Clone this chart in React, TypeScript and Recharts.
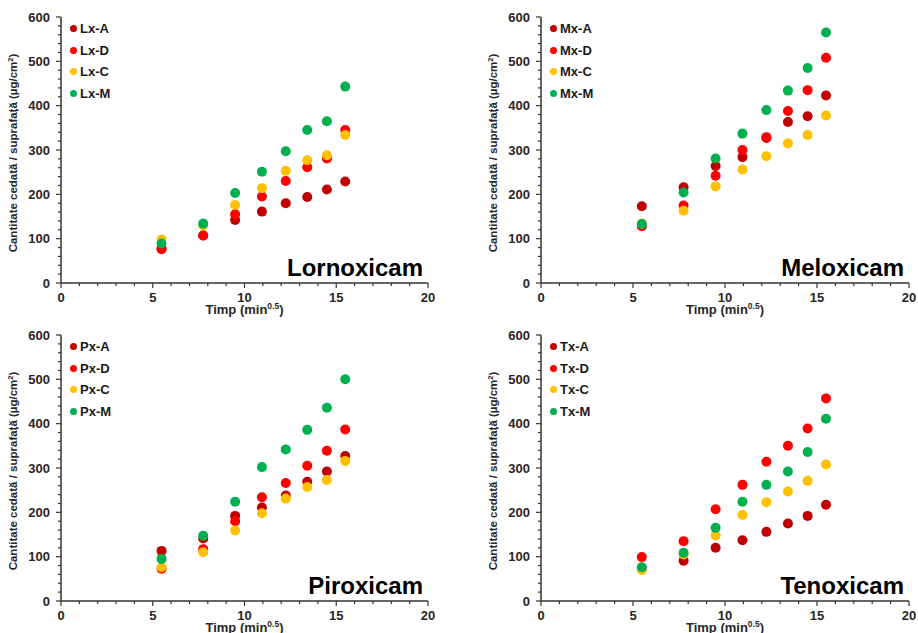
import React from "react";
import { ScatterChart, Scatter, XAxis, YAxis, Legend } from "recharts";

// time axis: sqrt of sampling minutes
const timeX = [5.48, 7.75, 9.49, 10.95, 12.25, 13.42, 14.49, 15.49];
const xTicks = [0, 1, 2, 3, 4, 5, 6, 7, 8, 9, 10, 11, 12, 13, 14, 15, 16, 17, 18, 19, 20];
const yTicks = [0, 20, 40, 60, 80, 100, 120, 140, 160, 180, 200, 220, 240, 260, 280, 300, 320, 340, 360, 380, 400, 420, 440, 460, 480, 500, 520, 540, 560, 580, 600];
const seriesSuffix = ["A", "D", "C", "M"];
const seriesColors = ["#C00000", "#FF0000", "#FFC000", "#00B050"];

const lxA = [78, 107, 142, 161, 180, 194, 211, 229];
const lxD = [76, 107, 155, 195, 230, 261, 281, 345];
const lxC = [98, 130, 176, 214, 253, 277, 288, 334];
const lxM = [89, 134, 203, 251, 297, 345, 365, 443];

const mxA = [173, 216, 264, 284, 327, 363, 376, 423];
const mxD = [128, 175, 242, 300, 329, 388, 435, 508];
const mxC = [134, 163, 218, 256, 286, 315, 334, 378];
const mxM = [133, 204, 281, 337, 390, 434, 485, 565];

const pxA = [113, 141, 192, 211, 238, 269, 292, 327];
const pxD = [73, 117, 180, 234, 266, 305, 339, 387];
const pxC = [76, 110, 159, 198, 231, 257, 273, 316];
const pxM = [95, 147, 224, 302, 342, 386, 436, 500];

const txA = [73, 91, 120, 137, 156, 175, 192, 217];
const txD = [99, 135, 207, 262, 314, 350, 389, 457];
const txC = [70, 105, 148, 194, 223, 247, 271, 308];
const txM = [76, 109, 165, 224, 262, 292, 336, 411];

const FONT = "'Liberation Sans', Arial, sans-serif";
const AXIS = "#333333";
const W = 459;
const H = 317;
const YW = 40;
const XH = 30;

const panels = [
  { title: "Lornoxicam", prefix: "Lx", values: [lxA, lxD, lxC, lxM], left: 0, top: 0, pl: 61, pt: 17, pr: 428, pb: 283 },
  { title: "Meloxicam", prefix: "Mx", values: [mxA, mxD, mxC, mxM], left: 459, top: 0, pl: 82, pt: 17, pr: 450, pb: 283 },
  { title: "Piroxicam", prefix: "Px", values: [pxA, pxD, pxC, pxM], left: 0, top: 316, pl: 61, pt: 19, pr: 428, pb: 285 },
  { title: "Tenoxicam", prefix: "Tx", values: [txA, txD, txC, txM], left: 459, top: 316, pl: 82, pt: 19, pr: 450, pb: 285 },
];

const XTick = (props: any) => {
  const { x, y, payload } = props;
  const major = payload.value % 5 === 0;
  return (
    <g>
      <line x1={x} x2={x} y1={y} y2={y + (major ? 5 : 3)} stroke={AXIS} strokeWidth={1.2} />
      {major && (
        <text x={x} y={y + 18.5} textAnchor="middle" fontFamily={FONT} fontWeight={700} fontSize={13} fill="#262626">
          {payload.value}
        </text>
      )}
    </g>
  );
};

const YTick = (props: any) => {
  const { x, y, payload } = props;
  const major = payload.value % 100 === 0;
  return (
    <g>
      <line x1={x} x2={x - (major ? 5 : 3)} y1={y} y2={y} stroke={AXIS} strokeWidth={1.2} />
      {major && (
        <text x={x - 11} y={y + 4.5} textAnchor="end" fontFamily={FONT} fontWeight={700} fontSize={13} fill="#262626">
          {payload.value}
        </text>
      )}
    </g>
  );
};

const Dot = (props: any) => <circle cx={props.cx} cy={props.cy} r={5} fill={props.fill} />;

const LegendBox = (props: any) => {
  const { payload, order } = props;
  const items = [...(payload || [])].sort(
    (a: any, b: any) => order.indexOf(a.value) - order.indexOf(b.value)
  );
  return (
    <div style={{ fontFamily: FONT, fontWeight: 700, fontSize: 13, color: "#1a1a1a" }}>
      {items.map((p: any, i: number) => (
        <div key={i} style={{ display: "flex", alignItems: "center", height: 21.7 }}>
          <span style={{ width: 7, height: 7, borderRadius: "50%", background: p.color, marginRight: 3 }} />
          {p.value}
        </div>
      ))}
    </div>
  );
};

const Panel = ({ cfg }: { cfg: (typeof panels)[number] }) => {
  const cy = (cfg.pt + cfg.pb) / 2;
  const cx = (cfg.pl + cfg.pr) / 2;
  const names = seriesSuffix.map((s) => `${cfg.prefix}-${s}`);
  return (
    <div style={{ position: "absolute", left: cfg.left, top: cfg.top, width: W, height: H }}>
      <ScatterChart
        width={W}
        height={H}
        margin={{ top: cfg.pt, right: W - cfg.pr, bottom: H - cfg.pb - XH, left: cfg.pl - YW }}
      >
        <XAxis
          type="number"
          dataKey="x"
          domain={[0, 20]}
          ticks={xTicks}
          interval={0}
          height={XH}
          tickLine={false}
          tickSize={0}
          tickMargin={0}
          tick={<XTick />}
          axisLine={{ stroke: AXIS, strokeWidth: 1.5 }}
        />
        <YAxis
          type="number"
          dataKey="y"
          domain={[0, 600]}
          ticks={yTicks}
          interval={0}
          width={YW}
          tickLine={false}
          tickSize={0}
          tickMargin={0}
          tick={<YTick />}
          axisLine={{ stroke: AXIS, strokeWidth: 1.5 }}
        />
        <Legend
          layout="vertical"
          align="center"
          verticalAlign="middle"
          content={<LegendBox order={names} />}
          wrapperStyle={{ left: cfg.pl + 9, top: cfg.pt + 0.5, width: "auto", height: "auto" }}
        />
        {cfg.values.map((vals, i) => (
          <Scatter
            key={i}
            name={names[i]}
            data={timeX.map((x, j) => ({ x, y: vals[j] }))}
            fill={seriesColors[i]}
            shape={<Dot />}
            isAnimationActive={false}
          />
        ))}
        <g>
          <text
            transform={`translate(${cfg.pl - 44}, ${cy + 3}) rotate(-90)`}
            textAnchor="middle"
            fontFamily={FONT}
            fontWeight={700}
            fontSize={11.5}
            fill="#262626"
          >
            Cantitate cedată / suprafață (µg/cm<tspan fontSize={7.5} dy={-4}>2</tspan>
            <tspan dy={4}>)</tspan>
          </text>
          <text x={cx} y={cfg.pb + 31} textAnchor="middle" fontFamily={FONT} fontWeight={700} fontSize={13} fill="#262626">
            Timp (min<tspan fontSize={8.5} dy={-5}>0.5</tspan>
            <tspan dy={5}>)</tspan>
          </text>
          <text x={cfg.pr - 5} y={cfg.pb - 7} textAnchor="end" fontFamily={FONT} fontWeight={700} fontSize={24} fill="#000">
            {cfg.title}
          </text>
        </g>
      </ScatterChart>
    </div>
  );
}

export default function App() {
  return (
    <div style={{ position: "absolute", left: 0, top: 0, width: 918, height: 633, background: "#fff" }}>
      {panels.map((p) => (
        <Panel key={p.prefix} cfg={p} />
      ))}
    </div>
  );
}
